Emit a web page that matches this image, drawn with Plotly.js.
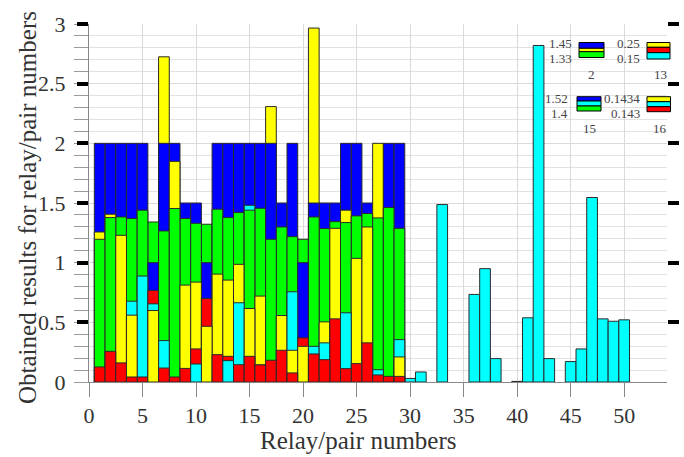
<!DOCTYPE html>
<html>
<head>
<meta charset="utf-8">
<script src="https://cdn.plot.ly/plotly-3.0.1.min.js"></script>
<style>html,body{margin:0;padding:0;background:#fff;}#chart{width:684px;height:457px;}</style>
</head>
<body>
<div id="chart"></div>
<script>
// Relay/pair numbers 1..50
const relays = Array.from({length: 50}, (_, i) => i + 1);

// Series values per relay (null = not visible / absent)
const redVals = [0.126,0.257,0.160,0.042,0.042,0.767,0.117,0.042,0.114,0.277,
                 0.700,0.229,0.215,0.145,0.215,0.1431,0.182,0.266,0.076,0.370,
                 0.235,0.187,0.529,0.112,0.154,0.328,0.059,0.047,0.047,null,
                 null,null,null,null,null,null,null,null,null,null,
                 null,null,null,null,null,null,null,null,null,null];
const cyanVals = [null,null,null,0.677,0.888,0.655,0.347,null,null,0.151,
                  null,null,0.179,0.664,1.481,0.1433,null,null,0.756,null,
                  0.299,0.328,null,0.580,null,null,0.103,null,0.355,0.030,
                  0.084,null,1.487,null,null,0.734,0.950,0.196,null,0.005,
                  0.538,2.820,0.196,null,0.171,0.277,1.546,0.529,0.509,0.521];
const yellowVals = [1.257,1.406,1.229,0.560,null,0.599,2.725,1.849,0.812,0.837,
                    0.467,0.904,0.854,0.986,0.616,0.720,2.308,0.557,0.266,0.299,
                    2.966,0.504,1.288,1.440,1.036,1.299,2.000,null,0.210,null,
                    null,null,null,null,null,null,null,null,null,null,
                    null,null,null,null,null,null,null,null,null,null];
const greenVals = [1.196,1.378,1.383,1.370,1.440,1.341,1.266,1.454,1.370,1.330,
                   1.322,1.448,1.378,1.420,1.440,1.456,1.196,1.299,1.218,1.196,
                   1.383,1.286,1.344,1.336,1.392,1.412,1.375,1.462,1.288,null,
                   null,null,null,null,null,null,null,null,null,null,
                   null,null,null,null,null,null,null,null,null,null];
const blueVals = [2.0,2.0,2.0,2.0,2.0,1.0,2.0,2.0,1.5,1.5,
                  1.0,2.0,2.0,2.0,2.0,2.0,2.0,1.5,2.0,1.0,
                  1.5,1.5,1.5,2.0,2.0,1.5,null,2.0,2.0,null,
                  null,null,null,null,null,null,null,null,null,null,
                  null,null,null,null,null,null,null,null,null,null];

const xTicks = [0,5,10,15,20,25,30,35,40,45,50];
const yTicks = [0,0.5,1,1.5,2,2.5,3];
const yTickText = ['0','0.5','1','1.5','2','2.5','3'];
const yMajorMarks = [0.5,1,1.5,2,2.5,3];

const seriesColors = {red:'#ff0000', cyan:'#00ffff', yellow:'#ffff00', green:'#00ff00', blue:'#0000ff'};
const seriesData = {red:redVals, cyan:cyanVals, yellow:yellowVals, green:greenVals, blue:blueVals};

// Overlaid bars: at each relay the larger values are drawn behind the smaller ones
const nRanks = 5;
const rankTraces = [];
for (let r = 0; r < nRanks; r++) {
  rankTraces.push({type:'bar', x:[], y:[], marker:{color:[], line:{color:'#2a2a2a', width:1}},
                   width:1, showlegend:false, hoverinfo:'x+y', xaxis:'x', yaxis:'y'});
}
relays.forEach((rel, i) => {
  const items = [];
  Object.keys(seriesData).forEach(k => {
    const v = seriesData[k][i];
    if (v !== null && v !== undefined && v > 0) items.push({v:v, c:seriesColors[k]});
  });
  items.sort((a, b) => b.v - a.v);
  items.forEach((it, r) => {
    rankTraces[r].x.push(rel);
    rankTraces[r].y.push(it.v);
    rankTraces[r].marker.color.push(it.c);
  });
});

const dummy2 = {type:'scatter', x:[], y:[], yaxis:'y2', showlegend:false, hoverinfo:'skip'};
const dummy3 = {type:'scatter', x:[], y:[], yaxis:'y3', showlegend:false, hoverinfo:'skip'};

// pixel -> paper helpers for decorations
const L = 89, R = 667, T = 24, B = 382;
const px = v => (v - L) / (R - L);
const py = v => (B - v) / (B - T);

const serif = 'Liberation Serif, Times New Roman, serif';
const txt = '#333';

// Zoom insets
const insets = [
  {x0:579, x1:604, stripes:[[42.5,48.3,'#0000ff'],[48.3,51.7,'#ffff00'],[51.7,57.5,'#00ff00']]},
  {x0:647, x1:670, stripes:[[42.5,47.3,'#ffff00'],[47.3,52.7,'#ff0000'],[52.7,59,'#00ffff']]},
  {x0:577, x1:601, stripes:[[96.7,101,'#0000ff'],[101,106,'#00ffff'],[106,111,'#00ff00']]},
  {x0:647, x1:670.5, stripes:[[96.7,101.7,'#ffff00'],[101.7,106.7,'#00ffff'],[106.7,111.7,'#ff0000']]}
];
const shapes = [];
insets.forEach(ins => {
  ins.stripes.forEach(s => {
    shapes.push({type:'rect', xref:'paper', yref:'paper', x0:px(ins.x0), x1:px(ins.x1),
                 y0:py(s[1]), y1:py(s[0]), fillcolor:s[2], line:{color:'#000', width:1}});
  });
});

const insetLabels = [
  ['1.45',573,43.5,'right'],['1.33',573,58.5,'right'],['2',591,74,'center'],
  ['0.25',641,43.5,'right'],['0.15',641,58.5,'right'],['13',660,74,'center'],
  ['1.52',569,98.5,'right'],['1.4',569,113,'right'],['15',589,128,'center'],
  ['0.1434',641,98.5,'right'],['0.143',641,113,'right'],['16',660,128,'center']
];
const annotations = insetLabels.map(l => ({
  text:l[0], xref:'paper', yref:'paper', x:px(l[1]), y:py(l[2]), xanchor:l[3], yanchor:'middle',
  showarrow:false, borderpad:0, font:{family:serif, size:13, color:'#444'}
}));
annotations.push({text:'Relay/pair numbers', xref:'paper', yref:'paper', x:px(358), y:py(440),
  xanchor:'center', yanchor:'middle', showarrow:false, font:{family:serif, size:25, color:txt}});
annotations.push({text:'Obtained results for relay/pair numbers', xref:'paper', yref:'paper',
  x:px(27), y:py(208), xanchor:'center', yanchor:'middle', textangle:-90, showarrow:false,
  font:{family:serif, size:25, color:txt}});

const layout = {
  width:684, height:457,
  margin:{l:L, r:684-R, t:T, b:457-B, pad:0},
  paper_bgcolor:'#fff', plot_bgcolor:'#fff',
  barmode:'overlay', bargap:0,
  showlegend:false,
  xaxis:{range:[0,54], tickmode:'array', tickvals:xTicks, ticks:'outside', ticklen:14,
         tickcolor:'#888', tickwidth:1, showline:true, linecolor:'#888', linewidth:1,
         showgrid:true, gridcolor:'#dadada', gridwidth:1, zeroline:false,
         tickfont:{family:serif, size:22, color:txt}},
  yaxis:{range:[0,3], tickmode:'array', tickvals:yTicks, ticktext:yTickText, ticks:'outside',
         ticklen:14, tickcolor:'#999', tickwidth:1, showline:true, linecolor:'#888', linewidth:1,
         showgrid:true, gridcolor:'#dadada', gridwidth:1, zeroline:false, ticklabelstandoff:4,
         tickfont:{family:serif, size:22, color:txt},
         minor:{tick0:0, dtick:0.1, ticks:'outside', ticklen:14, tickcolor:'#999', tickwidth:1,
                showgrid:true, gridcolor:'#e2e2e2', gridwidth:1}},
  yaxis2:{overlaying:'y', side:'right', range:[0,3], tickmode:'array', tickvals:yMajorMarks,
          ticks:'outside', ticklen:11, tickwidth:4, tickcolor:'#000', showticklabels:false,
          showgrid:false, showline:false, zeroline:false},
  yaxis3:{overlaying:'y', side:'left', range:[0,3], tickmode:'array', tickvals:yMajorMarks,
          ticks:'outside', ticklen:11, tickwidth:4, tickcolor:'#000', showticklabels:false,
          showgrid:false, showline:false, zeroline:false},
  shapes:shapes,
  annotations:annotations
};

Plotly.newPlot('chart', rankTraces.concat([dummy2, dummy3]), layout, {displayModeBar:false, staticPlot:true});
</script>
</body>
</html>
